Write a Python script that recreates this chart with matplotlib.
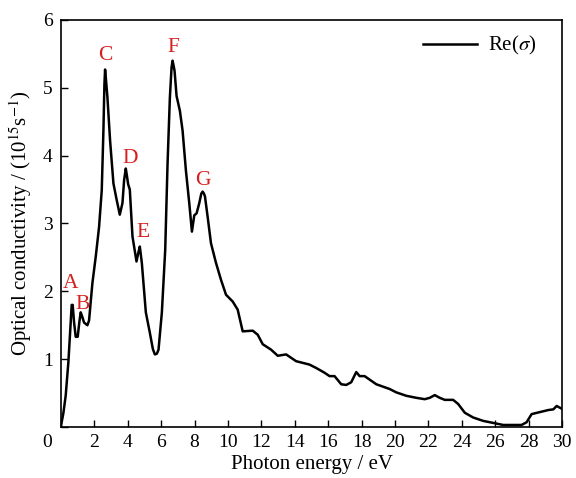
import numpy as np
import matplotlib
matplotlib.use("Agg")
import matplotlib.pyplot as plt
from matplotlib.transforms import ScaledTranslation

plt.rcParams['font.family'] = ['Liberation Serif', 'DejaVu Serif']
plt.rcParams['mathtext.fontset'] = 'stix'

# photon energy (eV) and Re(sigma) (10^15 s^-1)
energy = [0.0, 0.14, 0.28, 0.44, 0.58, 0.64, 0.70, 0.78, 0.88, 1.0, 1.1, 1.18, 1.28,
          1.38, 1.58, 1.68, 1.88, 2.08, 2.28, 2.44, 2.54, 2.60, 2.64, 2.70, 2.78,
          2.94, 3.14, 3.34, 3.52, 3.68, 3.78, 3.88, 3.95, 4.02, 4.12, 4.28, 4.52,
          4.64, 4.72, 4.84, 5.08, 5.32, 5.50, 5.62, 5.74, 5.84, 6.04, 6.24, 6.38,
          6.52, 6.62, 6.68, 6.74, 6.80, 6.92, 7.12, 7.28, 7.48, 7.68, 7.84, 7.98,
          8.12, 8.28, 8.40, 8.48, 8.56, 8.62, 8.78, 8.98, 9.28, 9.58, 9.88, 10.28,
          10.58, 10.88, 11.48, 11.78, 12.08, 12.58, 12.98, 13.48, 14.08, 14.88,
          15.28, 15.78, 16.08, 16.38, 16.78, 17.08, 17.38, 17.68, 17.88, 18.18,
          18.88, 19.68, 20.08, 20.68, 21.28, 21.78, 22.08, 22.38, 22.68, 22.98,
          23.48, 23.78, 24.18, 24.68, 25.28, 25.88, 26.48, 27.58, 27.88, 28.18,
          28.68, 29.18, 29.48, 29.68, 29.98]
sigma = [0.02, 0.2, 0.46, 0.95, 1.54, 1.80, 1.80, 1.55, 1.33, 1.33, 1.55, 1.69, 1.62,
         1.54, 1.50, 1.57, 2.12, 2.51, 2.95, 3.49, 4.37, 5.05, 5.27, 5.10, 4.86,
         4.22, 3.59, 3.34, 3.13, 3.30, 3.64, 3.81, 3.70, 3.58, 3.50, 2.81, 2.44,
         2.58, 2.66, 2.42, 1.69, 1.39, 1.15, 1.07, 1.08, 1.14, 1.69, 2.61, 3.88,
         4.86, 5.30, 5.40, 5.33, 5.25, 4.88, 4.66, 4.37, 3.78, 3.30, 2.88, 3.12,
         3.15, 3.30, 3.44, 3.47, 3.44, 3.40, 3.10, 2.71, 2.42, 2.17, 1.95, 1.85,
         1.73, 1.41, 1.42, 1.36, 1.22, 1.14, 1.05, 1.07, 0.97, 0.92,
         0.87, 0.80, 0.75, 0.75, 0.63, 0.62, 0.66, 0.81, 0.75, 0.75,
         0.63, 0.56, 0.51, 0.46, 0.43, 0.41, 0.43, 0.47, 0.43, 0.40,
         0.40, 0.34, 0.21, 0.14, 0.09, 0.06, 0.03, 0.03, 0.07, 0.19,
         0.22, 0.25, 0.26, 0.31, 0.27]

peak_names = ['A', 'B', 'C', 'D', 'E', 'F', 'G']
peak_x = [0.6, 1.32, 2.64, 4.14, 4.92, 6.72, 8.52]
peak_y = [2.12, 1.80, 5.47, 3.96, 2.86, 5.59, 3.63]

fig = plt.figure(figsize=(5.76, 4.78), dpi=100)
ax = fig.add_axes([0.1059, 0.1067, 0.8698, 0.8515])
ax.plot(energy, sigma, color='black', lw=1.8, label=r'Re($\sigma$)')
for n, px, py in zip(peak_names, peak_x, peak_y):
    ax.text(px, py, n, color='#d42020', fontsize=15.5, ha='center', va='center')

ax.set_xlim(0, 30)
ax.set_ylim(0, 6)
ax.set_xticks(np.arange(0, 31, 2))
ax.set_yticks(np.arange(0, 7, 1))
ax.set_yticklabels([''] + [str(i) for i in range(1, 7)])
ax.tick_params(direction='in', length=5, labelsize=14, width=1)
ax.tick_params(axis='x', pad=5)
ax.tick_params(axis='y', pad=6)
# the corner "0" sits left of the axis
lbl0 = ax.get_xticklabels()[0]
lbl0.set_transform(lbl0.get_transform() + ScaledTranslation(-0.14, 0, fig.dpi_scale_trans))
ax.set_xlabel('Photon energy / eV', fontsize=15, labelpad=3)
ax.set_ylabel(r'Optical conductivity / (10$^{15}$s$^{-1}$)', fontsize=15, labelpad=6)
for s in ax.spines.values():
    s.set_linewidth(1.2)
ax.legend(loc='upper right', bbox_to_anchor=(0.965, 0.985), frameon=False,
          fontsize=15, handlelength=2.6, handletextpad=0.5, borderaxespad=0)

fig.savefig('out.png', dpi=100)
